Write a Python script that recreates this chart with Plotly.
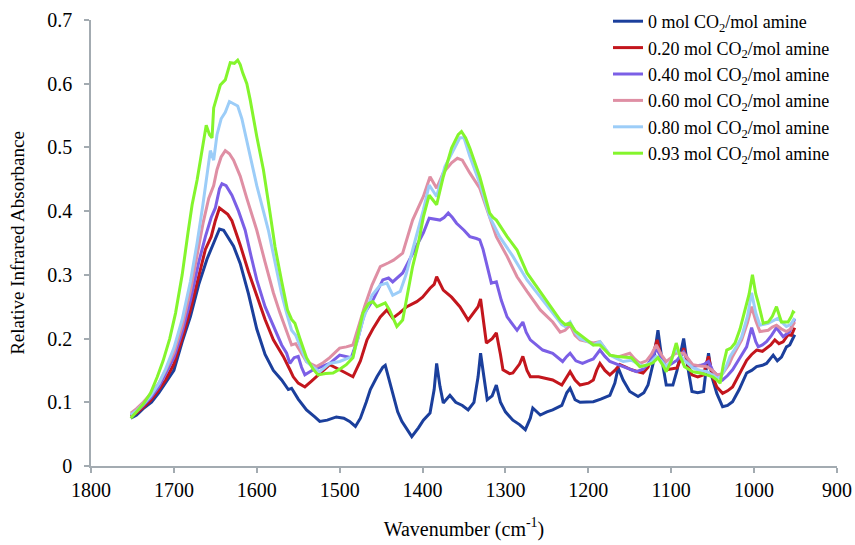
import plotly.graph_objects as go

# FTIR spectra of the loaded amine solution, one trace per CO2 loading
labels = [
    "0 mol CO<sub>2</sub>/mol amine",
    "0.20 mol CO<sub>2</sub>/mol amine",
    "0.40 mol CO<sub>2</sub>/mol amine",
    "0.60 mol CO<sub>2</sub>/mol amine",
    "0.80 mol CO<sub>2</sub>/mol amine",
    "0.93 mol CO<sub>2</sub>/mol amine",
]
colors = ["#1b3f9c", "#c3161d", "#7b5fe6", "#df8fa4", "#9ccdf8", "#84f52c"]

wn_000 = [1752, 1745, 1737, 1727, 1718, 1710, 1700, 1690, 1680, 1670, 1660, 1652, 1645, 1640, 1635, 1628,
          1620, 1610, 1600, 1590, 1580, 1570, 1562, 1558, 1550, 1540, 1530, 1524, 1515, 1504, 1495, 1488,
          1481, 1475, 1468, 1463, 1455, 1448, 1445, 1440, 1436, 1430, 1425, 1418, 1413, 1405, 1399, 1391,
          1386, 1383, 1379, 1375, 1367, 1360, 1352, 1345, 1338, 1333, 1330, 1326, 1322, 1316, 1311, 1306,
          1300, 1291, 1283, 1276, 1270, 1267, 1262, 1258, 1250, 1243, 1232, 1226, 1222, 1216, 1210, 1200,
          1194, 1185, 1174, 1168, 1164, 1158, 1150, 1140, 1133, 1128, 1122, 1116, 1111, 1106, 1098, 1093,
          1088, 1085, 1080, 1075, 1068, 1061, 1058, 1055, 1051, 1045, 1038, 1032, 1026, 1018, 1009, 1003,
          997, 990, 985, 977, 972, 967, 961, 957, 951]
abs_000 = [0.075, 0.080, 0.090, 0.100, 0.115, 0.130, 0.150, 0.195, 0.235, 0.285, 0.325, 0.350, 0.372, 0.370, 0.360, 0.345,
           0.318, 0.270, 0.215, 0.175, 0.150, 0.135, 0.120, 0.122, 0.105, 0.088, 0.077, 0.070, 0.072, 0.077, 0.075, 0.070,
           0.062, 0.075, 0.100, 0.120, 0.140, 0.155, 0.158, 0.135, 0.114, 0.085, 0.070, 0.055, 0.046, 0.060, 0.072, 0.083,
           0.120, 0.161, 0.125, 0.099, 0.111, 0.100, 0.095, 0.088, 0.100, 0.140, 0.177, 0.140, 0.104, 0.110, 0.127, 0.100,
           0.085, 0.072, 0.065, 0.057, 0.075, 0.091, 0.085, 0.080, 0.085, 0.088, 0.095, 0.115, 0.122, 0.104, 0.100, 0.100,
           0.101, 0.105, 0.111, 0.130, 0.154, 0.135, 0.117, 0.109, 0.115, 0.127, 0.160, 0.213, 0.165, 0.127, 0.127, 0.150,
           0.185, 0.200, 0.155, 0.117, 0.115, 0.117, 0.150, 0.177, 0.140, 0.114, 0.093, 0.095, 0.101, 0.120, 0.146, 0.150,
           0.156, 0.158, 0.161, 0.174, 0.165, 0.171, 0.187, 0.190, 0.206]

wn_020 = [1752, 1745, 1737, 1728, 1718, 1710, 1700, 1690, 1680, 1670, 1662, 1655, 1650, 1645, 1640, 1635,
          1630, 1620, 1610, 1600, 1590, 1580, 1572, 1568, 1560, 1556, 1550, 1542, 1535, 1528, 1520, 1512,
          1500, 1492, 1484, 1475, 1467, 1460, 1451, 1443, 1436, 1428, 1419, 1407, 1400, 1391, 1386, 1383,
          1378, 1375, 1365, 1355, 1345, 1339, 1333, 1330, 1326, 1323, 1316, 1311, 1306, 1303, 1295, 1291,
          1283, 1279, 1274, 1270, 1260, 1252, 1243, 1232, 1226, 1222, 1216, 1210, 1200, 1194, 1190, 1186,
          1180, 1174, 1168, 1162, 1155, 1148, 1140, 1134, 1128, 1122, 1117, 1112, 1106, 1100, 1093, 1088,
          1085, 1080, 1075, 1068, 1061, 1058, 1055, 1050, 1045, 1038, 1032, 1026, 1018, 1009, 1003, 997,
          990, 985, 980, 975, 970, 965, 959, 955, 951]
abs_020 = [0.078, 0.083, 0.092, 0.103, 0.120, 0.135, 0.160, 0.200, 0.245, 0.300, 0.340, 0.360, 0.385, 0.405, 0.400, 0.395,
           0.385, 0.347, 0.305, 0.266, 0.230, 0.198, 0.180, 0.172, 0.151, 0.140, 0.130, 0.124, 0.132, 0.140, 0.150, 0.159,
           0.151, 0.145, 0.140, 0.165, 0.198, 0.215, 0.234, 0.245, 0.232, 0.240, 0.250, 0.258, 0.265, 0.279, 0.285, 0.297,
           0.285, 0.276, 0.265, 0.250, 0.229, 0.240, 0.250, 0.262, 0.225, 0.193, 0.200, 0.209, 0.175, 0.151, 0.145, 0.146,
           0.160, 0.172, 0.150, 0.140, 0.140, 0.138, 0.135, 0.127, 0.140, 0.148, 0.135, 0.127, 0.130, 0.135, 0.150, 0.161,
           0.150, 0.143, 0.150, 0.159, 0.155, 0.151, 0.148, 0.146, 0.155, 0.175, 0.198, 0.170, 0.151, 0.152, 0.154, 0.170,
           0.185, 0.160, 0.143, 0.140, 0.143, 0.160, 0.172, 0.140, 0.124, 0.114, 0.118, 0.124, 0.145, 0.166, 0.175, 0.182,
           0.180, 0.185, 0.190, 0.198, 0.192, 0.195, 0.206, 0.205, 0.217]

wn_040 = [1752, 1745, 1737, 1728, 1718, 1710, 1700, 1690, 1680, 1670, 1662, 1655, 1650, 1645, 1642, 1637,
          1630, 1622, 1614, 1607, 1600, 1590, 1580, 1570, 1564, 1560, 1555, 1550, 1546, 1542, 1532, 1520,
          1512, 1500, 1492, 1486, 1478, 1470, 1460, 1448, 1441, 1436, 1424, 1412, 1399, 1392, 1385, 1379,
          1374, 1369, 1364, 1359, 1350, 1343, 1335, 1331, 1327, 1323, 1317, 1311, 1305, 1298, 1290, 1286,
          1279, 1275, 1270, 1262, 1255, 1243, 1236, 1231, 1226, 1222, 1215, 1207, 1200, 1194, 1186, 1180,
          1174, 1165, 1158, 1150, 1142, 1134, 1128, 1122, 1118, 1112, 1106, 1100, 1093, 1085, 1080, 1074,
          1065, 1060, 1055, 1050, 1045, 1038, 1032, 1026, 1018, 1009, 1003, 998, 995, 990, 985, 979,
          973, 968, 965, 957, 951]
abs_040 = [0.080, 0.085, 0.095, 0.107, 0.125, 0.145, 0.170, 0.210, 0.260, 0.320, 0.360, 0.390, 0.405, 0.435, 0.443, 0.440,
           0.425, 0.400, 0.370, 0.330, 0.292, 0.250, 0.219, 0.190, 0.177, 0.161, 0.170, 0.172, 0.155, 0.143, 0.151, 0.157,
           0.161, 0.174, 0.172, 0.170, 0.200, 0.240, 0.260, 0.292, 0.295, 0.289, 0.303, 0.334, 0.366, 0.389, 0.387, 0.386,
           0.390, 0.397, 0.390, 0.381, 0.370, 0.360, 0.357, 0.355, 0.340, 0.319, 0.287, 0.289, 0.260, 0.234, 0.220, 0.213,
           0.226, 0.210, 0.198, 0.190, 0.182, 0.177, 0.170, 0.164, 0.172, 0.177, 0.165, 0.161, 0.165, 0.168, 0.182, 0.172,
           0.164, 0.160, 0.156, 0.152, 0.148, 0.152, 0.160, 0.172, 0.185, 0.170, 0.156, 0.160, 0.166, 0.179, 0.168, 0.156,
           0.158, 0.160, 0.164, 0.150, 0.143, 0.135, 0.142, 0.151, 0.168, 0.187, 0.217, 0.195, 0.187, 0.190, 0.195, 0.205,
           0.217, 0.207, 0.203, 0.211, 0.231]

wn_060 = [1752, 1745, 1737, 1728, 1718, 1710, 1700, 1690, 1680, 1672, 1665, 1658, 1652, 1648, 1643, 1638,
          1633, 1628, 1620, 1612, 1605, 1600, 1590, 1580, 1572, 1564, 1558, 1553, 1547, 1540, 1528, 1520,
          1512, 1500, 1492, 1484, 1477, 1470, 1461, 1451, 1441, 1435, 1424, 1412, 1399, 1391, 1383, 1375,
          1365, 1358, 1352, 1343, 1331, 1319, 1311, 1298, 1286, 1274, 1258, 1243, 1234, 1228, 1222, 1216,
          1210, 1200, 1194, 1186, 1180, 1174, 1168, 1162, 1150, 1144, 1138, 1130, 1124, 1118, 1112, 1106,
          1100, 1095, 1085, 1080, 1074, 1065, 1057, 1050, 1045, 1038, 1030, 1026, 1018, 1015, 1008, 1003,
          998, 993, 983, 978, 973, 967, 961, 956, 951]
abs_060 = [0.083, 0.090, 0.100, 0.113, 0.130, 0.150, 0.178, 0.220, 0.275, 0.330, 0.380, 0.420, 0.440, 0.465, 0.485, 0.495,
           0.490, 0.480, 0.455, 0.420, 0.390, 0.370, 0.320, 0.272, 0.240, 0.213, 0.190, 0.192, 0.180, 0.164, 0.156, 0.162,
           0.170, 0.185, 0.187, 0.190, 0.220, 0.250, 0.284, 0.313, 0.319, 0.323, 0.334, 0.386, 0.423, 0.454, 0.436, 0.460,
           0.476, 0.483, 0.480, 0.460, 0.436, 0.391, 0.360, 0.329, 0.297, 0.274, 0.245, 0.226, 0.210, 0.213, 0.221, 0.205,
           0.198, 0.195, 0.193, 0.195, 0.185, 0.174, 0.172, 0.172, 0.177, 0.168, 0.161, 0.165, 0.175, 0.190, 0.175, 0.164,
           0.170, 0.177, 0.177, 0.168, 0.159, 0.157, 0.156, 0.150, 0.143, 0.145, 0.160, 0.172, 0.190, 0.198, 0.225, 0.250,
           0.228, 0.211, 0.213, 0.218, 0.221, 0.215, 0.211, 0.215, 0.226]

wn_080 = [1752, 1745, 1737, 1728, 1718, 1710, 1700, 1690, 1680, 1672, 1665, 1660, 1656, 1652, 1648, 1643,
          1638, 1633, 1628, 1623, 1618, 1612, 1605, 1600, 1592, 1586, 1578, 1570, 1564, 1558, 1553, 1547,
          1540, 1532, 1524, 1512, 1500, 1492, 1484, 1478, 1472, 1461, 1451, 1443, 1436, 1427, 1420, 1412,
          1399, 1392, 1383, 1373, 1363, 1355, 1350, 1343, 1331, 1319, 1307, 1291, 1274, 1258, 1243, 1232,
          1228, 1222, 1216, 1210, 1200, 1194, 1186, 1180, 1174, 1165, 1158, 1148, 1140, 1134, 1125, 1118,
          1112, 1106, 1100, 1095, 1090, 1084, 1074, 1065, 1057, 1050, 1045, 1040, 1034, 1029, 1020, 1015,
          1008, 1003, 998, 993, 983, 977, 971, 966, 961, 956, 951]
abs_080 = [0.080, 0.087, 0.097, 0.110, 0.130, 0.152, 0.185, 0.230, 0.290, 0.350, 0.410, 0.460, 0.495, 0.480, 0.520, 0.545,
           0.555, 0.572, 0.568, 0.565, 0.545, 0.510, 0.470, 0.440, 0.400, 0.370, 0.320, 0.270, 0.240, 0.213, 0.205, 0.185,
           0.164, 0.155, 0.148, 0.161, 0.164, 0.168, 0.172, 0.200, 0.229, 0.268, 0.284, 0.287, 0.268, 0.274, 0.300, 0.339,
           0.402, 0.441, 0.423, 0.470, 0.495, 0.515, 0.515, 0.486, 0.444, 0.391, 0.360, 0.329, 0.292, 0.266, 0.240, 0.222,
           0.219, 0.226, 0.210, 0.200, 0.195, 0.190, 0.195, 0.185, 0.174, 0.168, 0.164, 0.166, 0.160, 0.156, 0.162, 0.172,
           0.165, 0.156, 0.165, 0.185, 0.175, 0.166, 0.154, 0.150, 0.148, 0.143, 0.138, 0.140, 0.155, 0.172, 0.190, 0.203,
           0.235, 0.272, 0.240, 0.221, 0.224, 0.228, 0.232, 0.225, 0.219, 0.222, 0.232]

wn_093 = [1752, 1745, 1737, 1728, 1720, 1713, 1705, 1698, 1690, 1683, 1678, 1672, 1668, 1665, 1661, 1657,
          1654, 1652, 1648, 1644, 1638, 1632, 1627, 1623, 1620, 1617, 1612, 1608, 1600, 1592, 1584, 1578,
          1570, 1563, 1558, 1554, 1548, 1540, 1532, 1526, 1517, 1508, 1500, 1492, 1484, 1478, 1472, 1465,
          1460, 1455, 1451, 1445, 1440, 1431, 1424, 1418, 1412, 1405, 1399, 1392, 1383, 1375, 1365, 1357,
          1353, 1348, 1343, 1331, 1319, 1315, 1311, 1298, 1286, 1274, 1258, 1243, 1234, 1228, 1222, 1216,
          1210, 1200, 1194, 1186, 1180, 1174, 1165, 1157, 1148, 1138, 1130, 1122, 1116, 1110, 1106, 1100,
          1094, 1090, 1084, 1074, 1065, 1057, 1050, 1045, 1041, 1037, 1033, 1028, 1023, 1017, 1011, 1006,
          1002, 998, 995, 989, 983, 978, 973, 969, 967, 959, 955, 953, 951]
abs_093 = [0.075, 0.085, 0.097, 0.115, 0.140, 0.165, 0.200, 0.240, 0.300, 0.366, 0.410, 0.449, 0.480, 0.505, 0.535, 0.520,
           0.515, 0.562, 0.580, 0.598, 0.606, 0.633, 0.632, 0.637, 0.630, 0.617, 0.600, 0.575, 0.517, 0.465, 0.397, 0.344,
           0.290, 0.245, 0.230, 0.224, 0.200, 0.170, 0.152, 0.143, 0.145, 0.146, 0.152, 0.159, 0.170, 0.205, 0.240, 0.255,
           0.258, 0.250, 0.252, 0.256, 0.245, 0.219, 0.229, 0.270, 0.313, 0.350, 0.391, 0.425, 0.410, 0.454, 0.499, 0.520,
           0.525, 0.515, 0.499, 0.454, 0.397, 0.390, 0.386, 0.360, 0.339, 0.303, 0.274, 0.245, 0.229, 0.222, 0.224, 0.212,
           0.206, 0.195, 0.190, 0.190, 0.182, 0.174, 0.172, 0.171, 0.170, 0.156, 0.158, 0.162, 0.170, 0.158, 0.148, 0.165,
           0.193, 0.175, 0.156, 0.148, 0.146, 0.143, 0.140, 0.135, 0.130, 0.160, 0.182, 0.185, 0.193, 0.215, 0.245, 0.270,
           0.300, 0.270, 0.256, 0.224, 0.226, 0.235, 0.250, 0.235, 0.226, 0.226, 0.235, 0.242, 0.240]

wavenumbers = [wn_000, wn_020, wn_040, wn_060, wn_080, wn_093]
absorbances = [abs_000, abs_020, abs_040, abs_060, abs_080, abs_093]

x_ticks = [1800, 1700, 1600, 1500, 1400, 1300, 1200, 1100, 1000, 900]
y_ticks = [0, 0.1, 0.2, 0.3, 0.4, 0.5, 0.6, 0.7]

SERIF = "Liberation Serif"
AXIS_GREY = "#a3abb1"
FIG_H, MARGIN_B, PLOT_TOP_GAP = 545, 79, 20


def serif_font(size):
    return dict(family=SERIF, size=size, color="black")


fig = go.Figure()
for name, color, xs, ys in zip(labels, colors, wavenumbers, absorbances):
    fig.add_trace(go.Scatter(
        x=xs, y=ys, mode="lines", name=name,
        line=dict(color=color, width=3),
    ))

# zero top margin; the y axis domain leaves the gap above the plot, so the
# legend can sit near the top edge without pushing the margins
paper_h = FIG_H - MARGIN_B
fig.update_layout(
    template="none",
    width=855, height=FIG_H,
    margin=dict(l=91, r=18, t=0, b=MARGIN_B),
    paper_bgcolor="white", plot_bgcolor="white",
    font=serif_font(18),
    showlegend=True,
    legend=dict(
        x=0.693, y=1 - 3 / paper_h, xanchor="left", yanchor="top",
        bgcolor="rgba(0,0,0,0)", borderwidth=0,
        font=serif_font(18),
        tracegroupgap=0, itemwidth=30,
    ),
)
fig.update_xaxes(
    range=[1800, 900], tickvals=x_ticks, ticktext=[str(v) for v in x_ticks],
    automargin=False,
    showline=True, linecolor=AXIS_GREY, linewidth=1.5,
    ticks="outside", ticklen=5, tickcolor=AXIS_GREY, tickwidth=1.5,
    showgrid=False, zeroline=False,
    tickfont=serif_font(20),
    title=dict(text="Wavenumber (cm<sup>-1</sup>)", font=serif_font(20), standoff=22),
)
fig.update_yaxes(
    range=[0, 0.7], tickvals=y_ticks, ticktext=["0", "0.1", "0.2", "0.3", "0.4", "0.5", "0.6", "0.7"],
    domain=[0, 1 - PLOT_TOP_GAP / paper_h],
    automargin=False,
    showline=True, linecolor=AXIS_GREY, linewidth=1.5,
    ticks="outside", ticklen=5, tickcolor=AXIS_GREY, tickwidth=1.5,
    ticklabelstandoff=8,
    showgrid=False, zeroline=False,
    tickfont=serif_font(20),
    title=dict(text="Relative Infrared Absorbance", font=serif_font(19), standoff=18),
)

fig.write_html("out.html")
